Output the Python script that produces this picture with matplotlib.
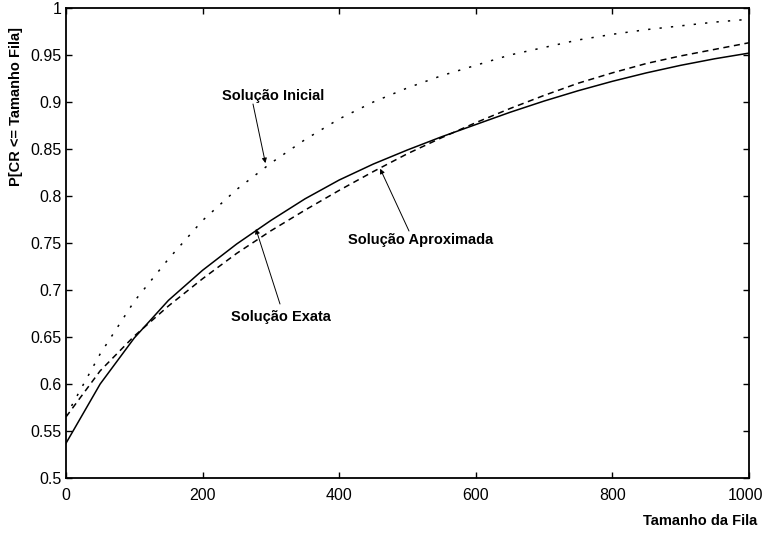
import matplotlib
matplotlib.use("Agg")
import matplotlib.pyplot as plt
from matplotlib.transforms import ScaledTranslation

plt.rcParams['font.family'] = ['Liberation Sans', 'DejaVu Sans']

# Queue size (x) and cumulative probability P[CR <= queue size] for each solution
tamanho = [0, 50, 100, 150, 200, 250, 300, 350, 400, 450, 500,
           550, 600, 650, 700, 750, 800, 850, 900, 950, 1000]

exata = [0.537, 0.600, 0.649, 0.689, 0.721, 0.749, 0.774, 0.797, 0.817, 0.834, 0.849,
         0.863, 0.876, 0.889, 0.901, 0.912, 0.922, 0.931, 0.939, 0.946, 0.952]

aproximada = [0.565, 0.614, 0.651, 0.683, 0.712, 0.739, 0.763, 0.785, 0.806, 0.826, 0.845,
              0.862, 0.878, 0.893, 0.907, 0.920, 0.931, 0.941, 0.949, 0.956, 0.963]

inicial = [0.566, 0.632, 0.688, 0.733, 0.774, 0.807, 0.835, 0.860, 0.882, 0.900, 0.915,
           0.928, 0.939, 0.950, 0.958, 0.966, 0.972, 0.977, 0.981, 0.985, 0.988]

xticks = [0, 200, 400, 600, 800, 1000]
yticks = [0.5, 0.55, 0.6, 0.65, 0.7, 0.75, 0.8, 0.85, 0.9, 0.95, 1.0]
yticklabels = ['0.5', '0.55', '0.6', '0.65', '0.7', '0.75', '0.8', '0.85', '0.9', '0.95', '1']

fig = plt.figure(figsize=(7.65, 5.33), dpi=100)
ax = fig.add_axes([0.0863, 0.1032, 0.8927, 0.8818])

ax.plot(tamanho, exata, color='black', lw=1.1, linestyle='-')
ax.plot(tamanho, aproximada, color='black', lw=1.1, linestyle=(0, (4, 3)))
ax.plot(tamanho, inicial, color='black', lw=1.1, linestyle=(0, (1.5, 6)))

ax.set_xlim(0, 1000)
ax.set_ylim(0.5, 1.0)
ax.set_xticks(xticks)
ax.set_xticklabels([str(v) for v in xticks])
ax.set_yticks(yticks)
ax.set_yticklabels(yticklabels)

for s in ax.spines.values():
    s.set_linewidth(1.3)
ax.tick_params(axis='both', which='both', direction='in', length=4, width=1,
               top=True, right=True, labelsize=11.5, colors='black')
ax.tick_params(axis='x', pad=7)
ax.tick_params(axis='y', pad=3)

# keep the last x tick label inside the canvas
last = ax.get_xticklabels()[-1]
last.set_transform(last.get_transform() + ScaledTranslation(-3 / 100, 0, fig.dpi_scale_trans))

# Axis titles
fig.text(757 / 765, 1 - 521 / 533, 'Tamanho da Fila', ha='right', va='center',
         fontsize=10.5, fontweight='bold')
fig.text(16 / 765, 1 - 107 / 533, 'P[CR <= Tamanho Fila]', ha='center', va='center',
         rotation=90, fontsize=10.5, fontweight='bold')

arrow = dict(arrowstyle='-|>', color='black', lw=0.7, mutation_scale=7,
             shrinkA=0, shrinkB=0)

# label text centre and arrow start in figure pixels (from top), arrow tip in data units
notes = [
    ('Solução Inicial', (273, 96), (253, 104), (292, 0.835)),
    ('Solução Exata', (281, 317), (280, 304), (278, 0.765)),
    ('Solução Aproximada', (421, 240), (409, 231), (460, 0.829)),
]

for text, (tx, ty), (sx, sy), tip in notes:
    ax.annotate(text, xy=tip, xycoords='data',
                xytext=(tx, 533 - ty), textcoords='figure pixels',
                fontsize=10.5, fontweight='bold', ha='center', va='center')
    ax.annotate('', xy=tip, xycoords='data',
                xytext=(sx, 533 - sy), textcoords='figure pixels',
                arrowprops=arrow)

fig.savefig('out.png', dpi=100)
